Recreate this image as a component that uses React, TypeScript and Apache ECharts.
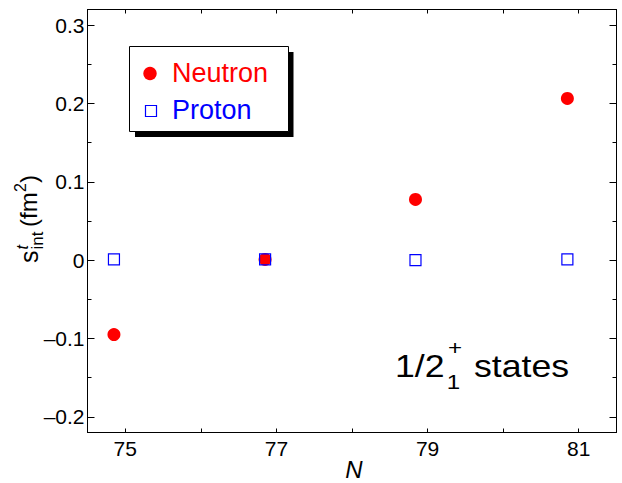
import React, { useEffect, useRef } from "react";
import * as echarts from "echarts";

const FONT = "'Liberation Sans', Arial, Helvetica, sans-serif";

const nValues = [74.85, 76.85, 78.84, 80.85];
const neutronValues = [-0.095, 0.001, 0.0775, 0.2065];
const protonValues = [0.001, 0.001, 0.0, 0.001];
const xTickValues = [75, 76, 77, 78, 79, 80, 81];
const xLabelValues = [75, 77, 79, 81];
const yMajorValues = [-0.2, -0.1, 0, 0.1, 0.2, 0.3];
const yMinorValues = [-0.15, -0.05, 0.05, 0.15, 0.25];
const legendNames = ["Neutron", "Proton"];
const xAxisTitle = "N";

function fmtY(v: number): string {
  const r = Math.round(v * 10) / 10;
  if (r === 0) return "0";
  if (r < 0) return "\u2013" + Math.abs(r).toFixed(1);
  return r.toFixed(1);
}

export default function App() {
  const ref = useRef<HTMLDivElement>(null);

  useEffect(() => {
    if (!ref.current) return;
    const chart = echarts.init(ref.current, null, { renderer: "svg" });

    const baseY = {
      type: "value" as const,
      min: -0.22,
      max: 0.32,
      splitLine: { show: false },
      axisLine: { show: false, onZero: false },
      axisLabel: { show: false },
      axisTick: { show: false },
    };

    const txt = (
      text: string,
      x: number,
      y: number,
      fontSize: number,
      fill: string,
      extra: any = {}
    ) => ({
      type: "text",
      style: {
        text,
        x,
        y,
        fontSize,
        fontFamily: FONT,
        fill,
        align: "left",
        verticalAlign: "middle",
        ...extra,
      },
    });

    chart.setOption({
      animation: false,
      backgroundColor: "#fff",
      grid: {
        left: 87.5,
        right: 5.5,
        top: 9.5,
        bottom: 50.5,
        containLabel: false,
        outerBoundsMode: "none",
      },
      xAxis: [
        {
          type: "value",
          position: "bottom",
          min: 74.5,
          max: 81.5,
          splitLine: { show: false },
          axisLine: { show: true, onZero: false, lineStyle: { color: "#000", width: 1 } },
          axisTick: {
            show: true,
            inside: true,
            length: 4,
            customValues: xTickValues,
            lineStyle: { color: "#000" },
          },
          axisLabel: {
            show: true,
            customValues: xLabelValues,
            fontSize: 21,
            color: "#000",
            fontFamily: FONT,
            margin: 5,
          },
        },
        {
          type: "value",
          position: "top",
          min: 74.5,
          max: 81.5,
          splitLine: { show: false },
          axisLine: { show: true, onZero: false, lineStyle: { color: "#000", width: 1 } },
          axisTick: {
            show: true,
            inside: true,
            length: 4,
            customValues: xTickValues,
            lineStyle: { color: "#000" },
          },
          axisLabel: { show: false },
        },
      ],
      yAxis: [
        {
          ...baseY,
          position: "left",
          axisLine: { show: true, onZero: false, lineStyle: { color: "#000", width: 1 } },
          axisTick: {
            show: true,
            inside: true,
            length: 7,
            customValues: yMajorValues,
            lineStyle: { color: "#000" },
          },
          axisLabel: {
            show: true,
            customValues: yMajorValues,
            formatter: (v: number) => fmtY(v),
            fontSize: 21,
            color: "#000",
            fontFamily: FONT,
            margin: 3,
          },
        },
        {
          ...baseY,
          position: "left",
          axisTick: {
            show: true,
            inside: true,
            length: 4,
            customValues: yMinorValues,
            lineStyle: { color: "#000" },
          },
        },
        {
          ...baseY,
          position: "right",
          axisLine: { show: true, onZero: false, lineStyle: { color: "#000", width: 1 } },
          axisTick: {
            show: true,
            inside: true,
            length: 7,
            customValues: yMajorValues,
            lineStyle: { color: "#000" },
          },
        },
        {
          ...baseY,
          position: "right",
          axisTick: {
            show: true,
            inside: true,
            length: 4,
            customValues: yMinorValues,
            lineStyle: { color: "#000" },
          },
        },
      ],
      series: [
        {
          name: legendNames[0],
          type: "scatter",
          xAxisIndex: 0,
          yAxisIndex: 0,
          symbol: "circle",
          symbolSize: 13,
          itemStyle: { color: "#ff0000", opacity: 1 },
          data: nValues.map((n, i) => [n, neutronValues[i]]),
        },
        {
          name: legendNames[1],
          type: "scatter",
          xAxisIndex: 0,
          yAxisIndex: 0,
          symbol: "rect",
          symbolSize: 11,
          itemStyle: {
            color: "rgba(0,0,0,0)",
            borderColor: "#0000ff",
            borderWidth: 1.2,
            opacity: 1,
          },
          data: nValues.map((n, i) => [n, protonValues[i]]),
        },
      ],
      graphic: [
        // legend box with hard shadow
        {
          type: "rect",
          shape: { x: 135, y: 52, width: 158.5, height: 85 },
          style: { fill: "#000" },
          z: 10,
        },
        {
          type: "rect",
          shape: { x: 129.5, y: 46.5, width: 159, height: 85 },
          style: { fill: "#fff", stroke: "#000", lineWidth: 1 },
          z: 11,
        },
        {
          type: "circle",
          shape: { cx: 150, cy: 73.5, r: 6.7 },
          style: { fill: "#ff0000" },
          z: 12,
        },
        {
          type: "rect",
          shape: { x: 145.5, y: 105.5, width: 11, height: 11 },
          style: { fill: "#fff", stroke: "#0000ff", lineWidth: 1.2 },
          z: 12,
        },
        { ...txt(legendNames[0], 172, 73, 27, "#ff0000"), z: 12 },
        { ...txt(legendNames[1], 172, 110, 27, "#0000ff"), z: 12 },
        // x axis title
        txt(xAxisTitle, 354, 469.5, 24, "#000", {
          align: "center",
          fontStyle: "italic",
          lineHeight: 22,
        }),
        // y axis title
        {
          type: "group",
          x: 37,
          y: 263,
          rotation: Math.PI / 2,
          children: [
            txt("s", 0, -8.4, 25, "#000"),
            txt("t", 13.5, -15, 16, "#000", { fontStyle: "italic" }),
            txt("int", 13.5, 0, 17, "#000"),
            txt("(fm", 36, -8.4, 24, "#000"),
            txt("2", 71, -16.6, 16, "#000"),
            txt(")", 80, -8.4, 24, "#000"),
          ],
        },
        // annotation
        {
          type: "group",
          x: 395,
          y: 0,
          scaleX: 1.15,
          children: [
            txt("1/2", 0, 366, 31, "#000"),
            txt("+", 46, 348, 21, "#000"),
            txt("1", 45, 382.5, 21, "#000"),
            txt("states", 68.7, 366, 31, "#000"),
          ],
        },
      ],
    });

    return () => {
      chart.dispose();
    };
  }, []);

  return (
    <div
      ref={ref}
      style={{ position: "fixed", left: 0, top: 0, width: 622, height: 483 }}
    />
  );
}
